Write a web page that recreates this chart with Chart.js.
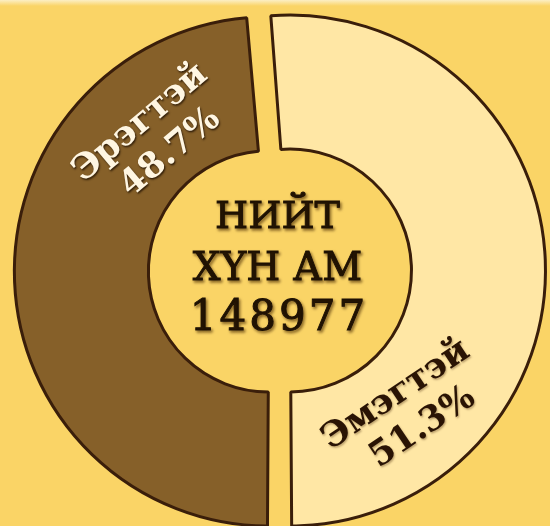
<!DOCTYPE html>
<html><head><meta charset="utf-8">
<script src="https://cdn.jsdelivr.net/npm/chart.js@4"></script>
<style>
html,body{margin:0;padding:0;width:550px;height:526px;overflow:hidden;}
body{background:linear-gradient(#FCEFC4 0px, #FAD466 6px, #FAD466 100%);}
#wrap{position:absolute;left:0;top:0;width:559px;height:542px;}
</style></head><body>
<div id="wrap"><canvas id="c" width="559" height="542"></canvas></div>
<script>
const categories = ['Эрэгтэй', 'Эмэгтэй'];
const values = [48.7, 51.3];
const centerTitle = ['НИЙТ', 'ХҮН АМ'];
const totalPopulation = 148977;

const segmentColors = ['#866029', '#FFE7A5'];
const labelStyle = [
  {angle: -133.6, r: 182, rot: -40, color: '#FFF6E2', shadow: 'rgba(30,15,0,0.85)'},
  {angle: 47.8, r: 191, rot: -34, color: '#2A1404', shadow: 'rgba(60,30,0,0.35)'}
];

const labelPlugin = {
  id: 'labels',
  afterDatasetsDraw(chart) {
    const ctx = chart.ctx;
    const meta = chart.getDatasetMeta(0);
    meta.data.forEach((arc, i) => {
      const st = labelStyle[i];
      const a = st.angle * Math.PI / 180;
      const x = arc.x + Math.cos(a) * st.r, y = arc.y + Math.sin(a) * st.r;
      ctx.save();
      ctx.translate(x, y);
      ctx.rotate(st.rot * Math.PI / 180);
      ctx.font = 'bold 35px "DejaVu Serif"';
      ctx.textAlign = 'center';
      ctx.textBaseline = 'middle';
      ctx.fillStyle = st.color;
      ctx.shadowColor = st.shadow;
      ctx.shadowBlur = 2;
      ctx.shadowOffsetX = 1;
      ctx.shadowOffsetY = 1.5;
      ctx.fillText(categories[i], 0, -21);
      ctx.fillText(values[i].toFixed(1) + '%', 4, 21);
      ctx.restore();
    });
    const cx = meta.data[0].x - 2, cy = meta.data[0].y;
    ctx.save();
    ctx.textAlign = 'center';
    ctx.textBaseline = 'alphabetic';
    ctx.fillStyle = '#1C1003';
    ctx.strokeStyle = '#1C1003';
    ctx.lineWidth = 0.9;
    ctx.shadowColor = 'rgba(70,40,0,0.6)';
    ctx.shadowBlur = 3;
    ctx.shadowOffsetX = 1.5;
    ctx.shadowOffsetY = 2;
    ctx.font = '38px "DejaVu Serif"';
    ctx.fillText(centerTitle[0], cx, cy - 43);
    ctx.strokeText(centerTitle[0], cx, cy - 43);
    ctx.font = '39px "DejaVu Serif"';
    ctx.fillText(centerTitle[1], cx, cy + 9);
    ctx.strokeText(centerTitle[1], cx, cy + 9);
    ctx.font = '42px "DejaVu Serif"';
    ctx.letterSpacing = '3px';
    ctx.fillText(String(totalPopulation), cx + 1.5, cy + 59);
    ctx.strokeText(String(totalPopulation), cx + 1.5, cy + 59);
    ctx.restore();
  }
};

new Chart(document.getElementById('c'), {
  type: 'doughnut',
  data: {
    labels: categories,
    datasets: [{
      data: values,
      backgroundColor: segmentColors,
      borderColor: '#3A1E0A',
      borderWidth: 3,
      offset: 42,
      hoverOffset: 0
    }]
  },
  options: {
    responsive: false,
    animation: false,
    rotation: 180,
    radius: 245,
    cutout: '45.3%',
    events: [],
    plugins: {legend: {display: false}, tooltip: {enabled: false}}
  },
  plugins: [labelPlugin]
});
</script>
</body></html>
